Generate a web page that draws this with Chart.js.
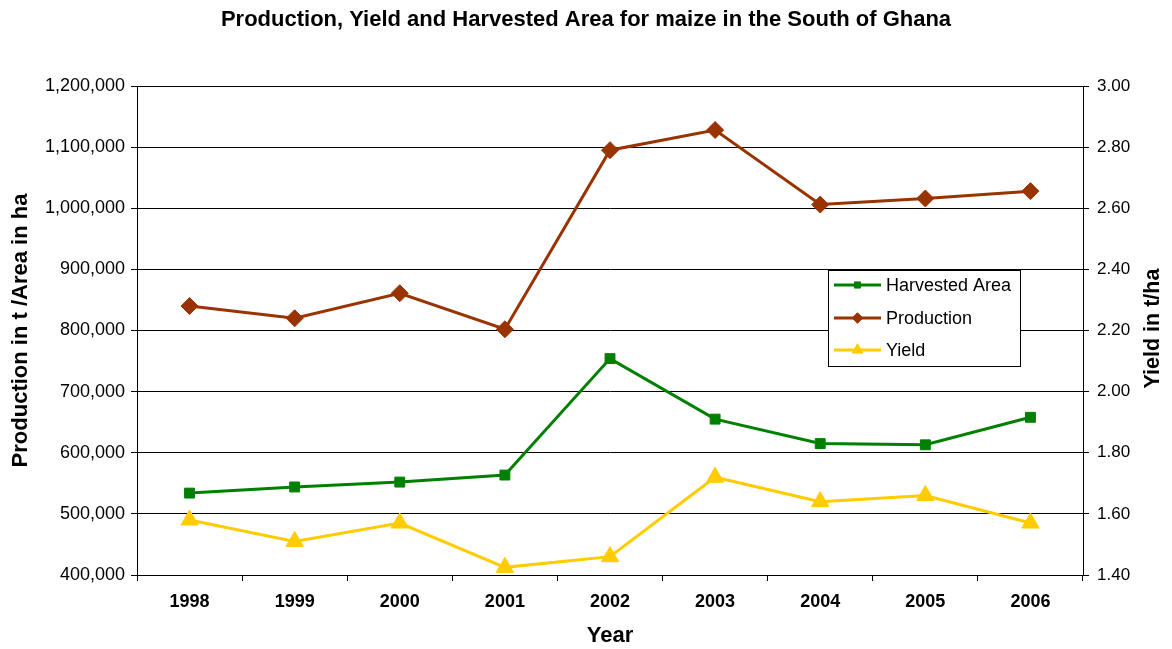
<!DOCTYPE html>
<html>
<head>
<meta charset="utf-8">
<script src="https://cdn.jsdelivr.net/npm/chart.js@4.4.1/dist/chart.umd.min.js"></script>
<style>
  html, body { margin: 0; padding: 0; background: #fff; }
  canvas { display: block; }
</style>
</head>
<body>
<canvas id="chart" width="1172" height="649"></canvas>
<script>
// Maize in southern Ghana, 1998-2006
const years = ['1998', '1999', '2000', '2001', '2002', '2003', '2004', '2005', '2006'];
const harvestedArea = [534000, 544000, 552000, 563500, 754000, 655000, 615000, 613000, 658000]; // ha
const production = [840000, 820000, 861000, 802000, 1095000, 1128000, 1006000, 1016000, 1028000]; // t
const yieldPerHa = [1.58, 1.51, 1.57, 1.425, 1.46, 1.72, 1.64, 1.66, 1.57]; // t/ha

const leftTicks = { min: 400000, max: 1200000, step: 100000 };
const rightTicks = { min: 1.4, max: 3.0, step: 0.2 };

const FONT = "'Liberation Sans', Arial, sans-serif";
const GREEN = '#008000';
const BROWN = '#993300';
const GOLD = '#FFCC00';

// Legend box drawn inside the plot area, using each dataset's own line and marker style
const insideLegend = {
  id: 'insideLegend',
  afterDatasetsDraw(chart) {
    const ctx = chart.ctx;
    const box = { x: 828, y: 270, w: 192, h: 96 };
    ctx.save();
    ctx.fillStyle = '#fff';
    ctx.fillRect(box.x, box.y, box.w, box.h);
    ctx.strokeStyle = '#000';
    ctx.lineWidth = 1;
    ctx.strokeRect(box.x + 0.5, box.y + 0.5, box.w, box.h);
    const rows = [285, 318, 350];
    chart.data.datasets.forEach((ds, i) => {
      const y = rows[i];
      ctx.strokeStyle = ds.borderColor;
      ctx.lineWidth = 3;
      ctx.beginPath();
      ctx.moveTo(834, y);
      ctx.lineTo(881, y);
      ctx.stroke();
      ctx.fillStyle = ds.pointBackgroundColor;
      ctx.strokeStyle = ds.pointBorderColor;
      ctx.lineWidth = 1;
      Chart.helpers.drawPoint(ctx, {
        pointStyle: ds.pointStyle,
        radius: ds.pointRadius * 0.62,
        borderWidth: 1
      }, 857.5, y);
      ctx.fillStyle = '#000';
      ctx.font = '18px ' + FONT;
      ctx.textBaseline = 'middle';
      ctx.textAlign = 'left';
      ctx.fillText(ds.label, 886, y + 1);
    });
    ctx.restore();
  }
};

// Right-hand axis title, reading bottom to top
const rightAxisTitle = {
  id: 'rightAxisTitle',
  afterDraw(chart) {
    const ctx = chart.ctx;
    const area = chart.chartArea;
    ctx.save();
    ctx.translate(1153, (area.top + area.bottom) / 2 - 2);
    ctx.rotate(-Math.PI / 2);
    ctx.fillStyle = '#000';
    ctx.font = 'bold 21.5px ' + FONT;
    ctx.textAlign = 'center';
    ctx.textBaseline = 'middle';
    ctx.fillText('Yield in t/ha', 0, 0);
    ctx.restore();
  }
};

function pointDs(label, data, color, style, radius, axis) {
  return {
    label: label,
    data: data,
    yAxisID: axis,
    borderColor: color,
    backgroundColor: color,
    pointBackgroundColor: color,
    pointBorderColor: color,
    pointStyle: style,
    pointRadius: radius,
    pointHoverRadius: radius,
    pointBorderWidth: 1,
    borderWidth: 3,
    tension: 0,
    fill: false
  };
}

new Chart(document.getElementById('chart'), {
  type: 'line',
  data: {
    labels: years,
    datasets: [
      pointDs('Harvested Area', harvestedArea, GREEN, 'rect', 7, 'y'),
      pointDs('Production', production, BROWN, 'rectRot', 8.5, 'y'),
      pointDs('Yield', yieldPerHa, GOLD, 'triangle', 10, 'y2')
    ]
  },
  options: {
    responsive: false,
    devicePixelRatio: 1,
    animation: false,
    layout: { padding: 0 },
    plugins: {
      legend: { display: false },
      tooltip: { enabled: false },
      title: {
        display: true,
        text: 'Production, Yield and Harvested Area for maize in the South of Ghana',
        color: '#000',
        font: { family: FONT, size: 22, weight: 'bold' },
        padding: { top: 7, bottom: 52.6 }
      }
    },
    scales: {
      x: {
        type: 'category',
        offset: true,
        grid: {
          offset: true,
          drawOnChartArea: false,
          drawTicks: true,
          tickLength: 6,
          tickColor: '#000',
          color: '#000'
        },
        border: { color: '#000', width: 1 },
        ticks: {
          color: '#000',
          font: { family: FONT, size: 18, weight: 'bold' },
          padding: 10,
          maxRotation: 0
        },
        title: {
          display: true,
          text: 'Year',
          color: '#000',
          font: { family: FONT, size: 22, weight: 'bold' },
          padding: { top: 0, bottom: 0 }
        },
        afterFit(scale) { scale.height = 74; }
      },
      y: {
        position: 'left',
        min: leftTicks.min,
        max: leftTicks.max,
        grid: {
          color: '#000',
          lineWidth: 1,
          drawTicks: true,
          tickLength: 6,
          tickColor: '#000'
        },
        border: { color: '#000', width: 1 },
        ticks: {
          stepSize: leftTicks.step,
          color: '#000',
          font: { family: FONT, size: 18 },
          padding: 6,
          callback: (v) => Number(v).toLocaleString('en-US')
        },
        title: {
          display: true,
          text: 'Production in t /Area in ha',
          color: '#000',
          font: { family: FONT, size: 22, weight: 'bold' },
          padding: { top: 8, bottom: 0 }
        },
        afterFit(scale) { scale.width = 137; }
      },
      y2: {
        position: 'right',
        min: rightTicks.min,
        max: rightTicks.max,
        grid: {
          drawOnChartArea: false,
          drawTicks: true,
          tickLength: 6,
          tickColor: '#000'
        },
        border: { color: '#000', width: 1 },
        ticks: {
          stepSize: rightTicks.step,
          color: '#000',
          font: { family: FONT, size: 17 },
          padding: 8,
          callback: (v) => Number(v).toFixed(2)
        },
        afterFit(scale) { scale.width = 89; }
      }
    }
  },
  plugins: [insideLegend, rightAxisTitle]
});
</script>
</body>
</html>
